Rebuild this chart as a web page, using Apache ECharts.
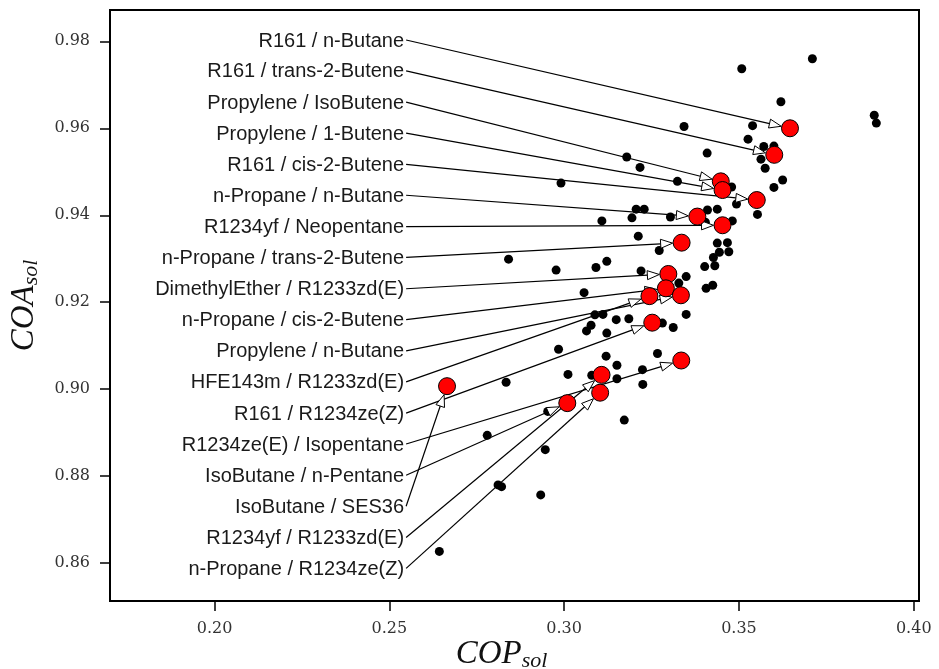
<!DOCTYPE html>
<html>
<head>
<meta charset="utf-8">
<script src="https://cdn.jsdelivr.net/npm/echarts@6/dist/echarts.min.js"></script>
<style>
  html, body { margin: 0; padding: 0; background: #fff; }
  #chart { width: 939px; height: 669px; }
</style>
</head>
<body>
<div id="chart"></div>
<script>
// all other working-fluid pairs (black dots)
var otherCOP = [0.3710, 0.3508, 0.3620, 0.3887, 0.3893, 0.3343, 0.3539, 0.3526, 0.3409, 0.3571,
  0.3600, 0.3563, 0.3575, 0.3625, 0.3600, 0.3479, 0.3493, 0.3553, 0.3410, 0.3438,
  0.3481, 0.3404, 0.3438, 0.3467, 0.3444, 0.3471, 0.3427, 0.3402, 0.3431, 0.3179,
  0.3217, 0.3324, 0.2991, 0.3206, 0.3229, 0.3108, 0.3194, 0.3304, 0.3212, 0.3272,
  0.2841, 0.2977, 0.3091, 0.3122, 0.3220, 0.3349, 0.3328, 0.3406, 0.3425, 0.3057,
  0.3349, 0.3088, 0.3111, 0.3149, 0.3185, 0.3281, 0.3312, 0.3077, 0.3064, 0.3122,
  0.2984, 0.3120, 0.3151, 0.3267, 0.3224, 0.3011, 0.3079, 0.3151, 0.3225, 0.2834,
  0.2953, 0.3172, 0.2780, 0.2946, 0.2811, 0.2821, 0.2933, 0.2643];
var otherCOA = [0.9760, 0.9737, 0.9661, 0.9630, 0.9612, 0.9604, 0.9606, 0.9575, 0.9543, 0.9558,
  0.9559, 0.9529, 0.9508, 0.9481, 0.9464, 0.9465, 0.9426, 0.9402, 0.9412, 0.9414,
  0.9387, 0.9384, 0.9336, 0.9337, 0.9315, 0.9316, 0.9303, 0.9282, 0.9284, 0.9534,
  0.9510, 0.9478, 0.9474, 0.9414, 0.9414, 0.9387, 0.9394, 0.9396, 0.9352, 0.9319,
  0.9299, 0.9274, 0.9280, 0.9294, 0.9272, 0.9259, 0.9244, 0.9232, 0.9239, 0.9222,
  0.9172, 0.9171, 0.9172, 0.9160, 0.9162, 0.9152, 0.9142, 0.9147, 0.9134, 0.9129,
  0.9092, 0.9076, 0.9055, 0.9082, 0.9045, 0.9034, 0.9032, 0.9024, 0.9011, 0.9016,
  0.8949, 0.8929, 0.8894, 0.8861, 0.8780, 0.8776, 0.8757, 0.8627];

// highlighted pairs (red dots), in label order
var pairNames = ['R161 / n-Butane', 'R161 / trans-2-Butene', 'Propylene / IsoButene',
  'Propylene / 1-Butene', 'R161 / cis-2-Butene', 'n-Propane / n-Butane',
  'R1234yf / Neopentane', 'n-Propane / trans-2-Butene', 'DimethylEther / R1233zd(E)',
  'n-Propane / cis-2-Butene', 'Propylene / n-Butane', 'HFE143m / R1233zd(E)',
  'R161 / R1234ze(Z)', 'R1234ze(E) / Isopentane', 'IsoButane / n-Pentane',
  'IsoButane / SES36', 'R1234yf / R1233zd(E)', 'n-Propane / R1234ze(Z)'];
var pairCOP = [0.3646, 0.3601, 0.3448, 0.3453, 0.3551, 0.3381, 0.3453, 0.3336, 0.3298,
  0.3291, 0.3334, 0.3244, 0.3252, 0.3335, 0.3009, 0.2665, 0.3107, 0.3103];
var pairCOA = [0.9600, 0.9539, 0.9478, 0.9458, 0.9435, 0.9397, 0.9377, 0.9337, 0.9265,
  0.9232, 0.9216, 0.9214, 0.9153, 0.9066, 0.8968, 0.9007, 0.9033, 0.8992];

// where the annotation text sits
var labelCOP = 0.2548;
var labelCOA = [0.9803, 0.9732, 0.9660, 0.9589, 0.9517, 0.9446, 0.9374, 0.9303, 0.9231,
  0.9160, 0.9088, 0.9017, 0.8945, 0.8874, 0.8802, 0.8731, 0.8659, 0.8588];

var xTicks = [0.20, 0.25, 0.30, 0.35, 0.40];
var yTicks = [0.86, 0.88, 0.90, 0.92, 0.94, 0.96, 0.98];

var chart = echarts.init(document.getElementById('chart'));

var blackData = otherCOP.map(function (x, i) { return [x, otherCOA[i]]; });
var redData = pairCOP.map(function (x, i) { return [x, pairCOA[i]]; });
var arrowData = pairCOP.map(function (x, i) { return [labelCOP, labelCOA[i], x, pairCOA[i]]; });

function renderArrow(params, api) {
  var start = api.coord([api.value(0), api.value(1)]);
  var end = api.coord([api.value(2), api.value(3)]);
  var dx = end[0] - start[0];
  var dy = end[1] - start[1];
  var len = Math.sqrt(dx * dx + dy * dy);
  var ux = dx / len, uy = dy / len;
  // stop at the edge of the red circle
  var tip = [end[0] - ux * 9, end[1] - uy * 9];
  var base = [tip[0] - ux * 12, tip[1] - uy * 12];
  var nx = -uy * 4.5, ny = ux * 4.5;
  return {
    type: 'group',
    children: [{
      type: 'line',
      shape: { x1: start[0], y1: start[1], x2: base[0], y2: base[1] },
      style: { stroke: '#000', lineWidth: 1.2 }
    }, {
      type: 'polygon',
      shape: { points: [tip, [base[0] + nx, base[1] + ny], [base[0] - nx, base[1] - ny]] },
      style: { fill: '#fff', stroke: '#000', lineWidth: 1 }
    }, {
      type: 'text',
      x: start[0] - 2,
      y: start[1] + 1,
      style: {
        text: pairNames[params.dataIndex],
        align: 'right',
        verticalAlign: 'middle',
        fontFamily: 'Liberation Sans',
        fontSize: 20,
        fill: '#1a1a1a'
      }
    }]
  };
}

var nameRich = {
  c: { fontFamily: 'Liberation Serif', fontStyle: 'italic', fontSize: 33, color: '#111' },
  s: { fontFamily: 'Liberation Serif', fontStyle: 'italic', fontSize: 22, color: '#111', padding: [13, 0, 0, 0] }
};

var option = {
  animation: false,
  backgroundColor: '#fff',
  grid: {
    left: 110, right: 20, top: 10, bottom: 68,
    containLabel: false,
    outerBoundsMode: 'none',
    show: true,
    borderColor: '#000',
    borderWidth: 2
  },
  xAxis: {
    type: 'value',
    min: 0.1701,
    max: 0.4015,
    splitLine: { show: false },
    axisLine: { show: false },
    axisTick: { show: true, inside: false, length: 10, customValues: xTicks,
      lineStyle: { color: '#000', width: 1.5 } },
    axisLabel: { margin: 20, customValues: xTicks, color: '#333',
      fontFamily: 'DejaVu Serif', fontSize: 16,
      formatter: function (v) { return v.toFixed(2); } },
    name: '{c|COP}{s|sol}',
    nameLocation: 'middle',
    nameGap: 36,
    nameMoveOverlap: false,
    nameTextStyle: { padding: [0, 26, 0, 0], rich: nameRich }
  },
  yAxis: {
    type: 'value',
    min: 0.8513,
    max: 0.9872,
    splitLine: { show: false },
    axisLine: { show: false },
    axisTick: { show: true, inside: false, length: 10, customValues: yTicks,
      lineStyle: { color: '#000', width: 1.5 } },
    axisLabel: { margin: 20, customValues: yTicks, color: '#333',
      fontFamily: 'DejaVu Serif', fontSize: 16,
      formatter: function (v) { return v.toFixed(2); } },
    name: '{c|COA}{s|sol}',
    nameLocation: 'middle',
    nameGap: 68,
    nameMoveOverlap: false,
    nameTextStyle: { rich: nameRich }
  },
  series: [{
    type: 'scatter',
    data: blackData,
    symbolSize: 9,
    itemStyle: { color: '#000', opacity: 1 },
    z: 2
  }, {
    type: 'custom',
    data: arrowData,
    encode: { x: [0, 2], y: [1, 3] },
    renderItem: renderArrow,
    z: 3
  }, {
    type: 'scatter',
    data: redData,
    symbolSize: 17,
    itemStyle: { color: '#ff0000', borderColor: '#000', borderWidth: 1, opacity: 1 },
    z: 4
  }]
};

chart.setOption(option);
</script>
</body>
</html>
